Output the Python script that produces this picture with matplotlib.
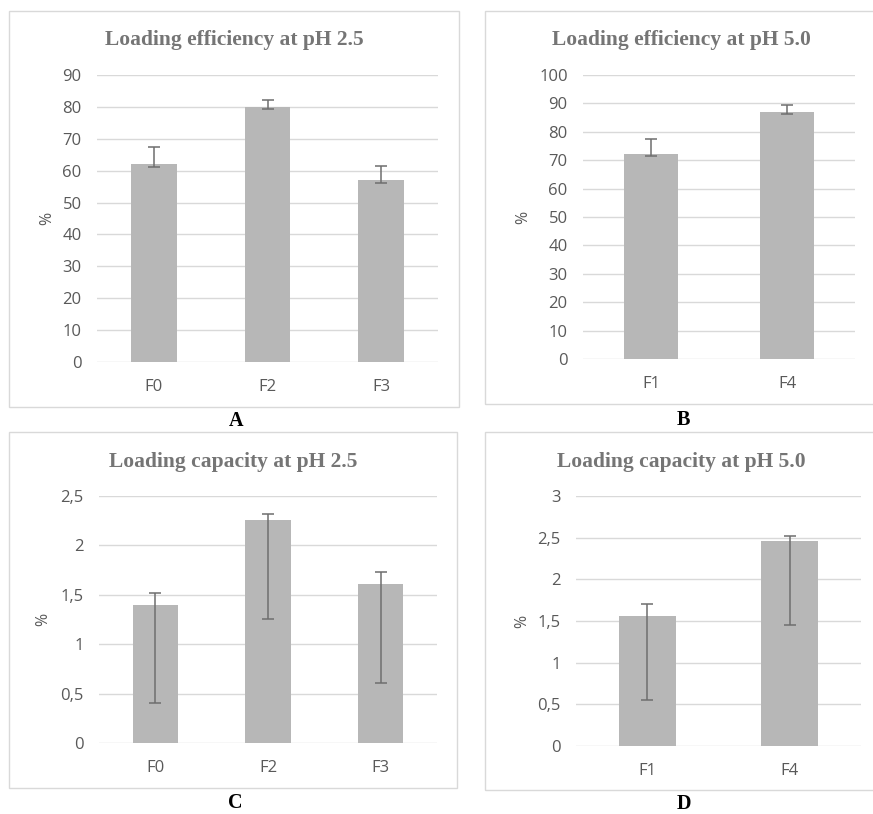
import matplotlib.pyplot as plt
from matplotlib.patches import Rectangle

W, H = 873, 814

# panel A: loading efficiency at pH 2.5
cats_a = ["F0", "F2", "F3"]
vals_a = [62.0, 80.0, 57.0]
err_lo_a = [1.0, 0.8, 0.9]
err_hi_a = [5.5, 2.3, 4.6]

# panel B: loading efficiency at pH 5.0
cats_b = ["F1", "F4"]
vals_b = [72.3, 86.9]
err_lo_b = [0.7, 0.7]
err_hi_b = [5.2, 2.5]

# panel C: loading capacity at pH 2.5
cats_c = ["F0", "F2", "F3"]
vals_c = [1.40, 2.26, 1.61]
err_lo_c = [1.0, 1.0, 1.0]
err_hi_c = [0.12, 0.06, 0.125]

# panel D: loading capacity at pH 5.0
cats_d = ["F1", "F4"]
vals_d = [1.555, 2.455]
err_lo_d = [1.0, 1.0]
err_hi_d = [0.155, 0.07]

BAR = "#b7b7b7"
GRID = "#d9d9d9"
TXT = "#595959"
TITLE = "#757575"


def fig_rect(l, t, r, b):
    # pixel box -> figure fraction [x, y, w, h]
    return [l / W, 1 - b / H, (r - l) / W, (b - t) / H]


def panel(fig, box, area, title, title_y, ylab_x, letter, letter_y,
          cats, vals, lo, hi, ymax, step, fmt):
    l, t, r, b = box
    fig.patches.append(Rectangle((l / W, 1 - b / H), (r - l) / W, (b - t) / H,
                                 transform=fig.transFigure, fill=False,
                                 edgecolor=GRID, linewidth=1.0))
    ax = fig.add_axes(fig_rect(*area))
    x = list(range(len(cats)))
    ax.bar(x, vals, width=0.4, color=BAR, zorder=2)
    ax.errorbar(x, vals, yerr=[lo, hi], fmt="none", ecolor="#6e6e6e",
                elinewidth=1.1, capsize=4.5, capthick=1.1, zorder=3)
    ax.set_xlim(-0.5, len(cats) - 0.5)
    ax.set_ylim(0, ymax)
    ticks = []
    v = 0.0
    while v <= ymax + 1e-9:
        ticks.append(round(v, 3))
        v += step
    ax.set_yticks(ticks)
    ax.set_yticklabels([fmt(t_) for t_ in ticks])
    ax.set_xticks(x)
    ax.set_xticklabels(cats)
    ax.tick_params(length=0, colors=TXT, labelsize=12)
    ax.tick_params(axis="y", pad=11)
    ax.tick_params(axis="x", pad=12)
    for s in ax.spines.values():
        s.set_visible(False)
    ax.grid(axis="y", color=GRID, linewidth=1.0, zorder=0)
    ax.set_axisbelow(True)
    for lab in ax.get_xticklabels() + ax.get_yticklabels():
        lab.set_fontfamily("Open Sans")
    fig.text((l + r) / 2 / W, 1 - title_y / H, title, ha="center", va="center",
             fontsize=15.5, fontweight="bold", color=TITLE,
             family="Liberation Serif")
    fig.text(ylab_x / W, 1 - (area[1] + area[3]) / 2 / H, "%", rotation=90,
             ha="center", va="center", fontsize=11.5, color=TXT,
             family="Open Sans")
    fig.text(((l + r) / 2 + 2) / W, 1 - letter_y / H, letter, ha="center",
             va="center", fontsize=14.5, fontweight="bold", color="black",
             family="Liberation Serif")
    return ax


def comma(v):
    s = ("%g" % v)
    return s.replace(".", ",")


fig = plt.figure(figsize=(W / 100, H / 100), dpi=100)

panel(fig, (9, 11, 459, 407), (97, 75, 438, 362), "Loading efficiency at pH 2.5",
      40, 47, "A", 421, cats_a, vals_a, err_lo_a, err_hi_a, 90, 10, comma)
panel(fig, (485, 11, 878, 404), (583, 75, 855, 359), "Loading efficiency at pH 5.0",
      40, 523, "B", 420, cats_b, vals_b, err_lo_b, err_hi_b, 100, 10, comma)
panel(fig, (9, 432, 457, 788), (99, 496, 437, 743), "Loading capacity at pH 2.5",
      462, 43, "C", 803, cats_c, vals_c, err_lo_c, err_hi_c, 2.5, 0.5, comma)
panel(fig, (485, 432, 878, 790), (576, 496, 861, 746), "Loading capacity at pH 5.0",
      462, 522, "D", 804, cats_d, vals_d, err_lo_d, err_hi_d, 3.0, 0.5, comma)

fig.savefig("out.png", dpi=100, facecolor="white")
